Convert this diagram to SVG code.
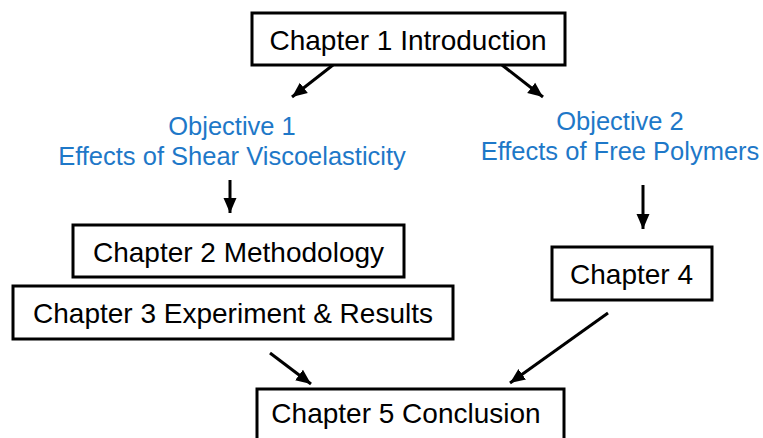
<svg xmlns="http://www.w3.org/2000/svg" width="763" height="438" viewBox="0 0 763 438">
<defs>
<marker id="ah" markerUnits="userSpaceOnUse" markerWidth="16" markerHeight="16" viewBox="0 0 16 16" refX="15" refY="8" orient="auto">
<path d="M0,1.5 L15,8 L0,14.5 Z" fill="#000"/>
</marker>
<style>
.box{fill:#fff;stroke:#000;stroke-width:3}
.t{font-family:"Liberation Sans",Arial,sans-serif;font-size:28px;fill:#000;text-anchor:middle}
.o{font-family:"Liberation Sans",Arial,sans-serif;font-size:25.5px;fill:#1E78C8;text-anchor:middle}
.c{stroke:#000;stroke-width:3;fill:none;marker-end:url(#ah)}
</style>
</defs>
<rect width="763" height="438" fill="#fff"/>
<g id="connectors">
<line class="c" x1="333" y1="65" x2="292" y2="97"/>
<line class="c" x1="502" y1="65" x2="543" y2="97"/>
<line class="c" x1="230" y1="180" x2="230" y2="213"/>
<line class="c" x1="643" y1="185" x2="643" y2="229"/>
<line class="c" x1="270" y1="353" x2="311" y2="384"/>
<line class="c" x1="608" y1="313" x2="510" y2="383"/>
</g>
<g id="ch1"><rect class="box" x="252" y="13" width="313" height="52"/><text class="t" x="408" y="50">Chapter 1 Introduction</text></g>
<g id="obj1"><text class="o" x="232" y="135">Objective 1</text><text class="o" x="232" y="165">Effects of Shear Viscoelasticity</text></g>
<g id="obj2"><text class="o" x="620" y="130">Objective 2</text><text class="o" x="620" y="160">Effects of Free Polymers</text></g>
<g id="ch2"><rect class="box" x="73" y="225" width="331" height="52"/><text class="t" x="238.5" y="261.5">Chapter 2 Methodology</text></g>
<g id="ch3"><rect class="box" x="13" y="286" width="440" height="53"/><text class="t" x="233" y="323">Chapter 3 Experiment &amp; Results</text></g>
<g id="ch4"><rect class="box" x="552" y="247" width="160" height="53"/><text class="t" x="631.5" y="284">Chapter 4</text></g>
<g id="ch5"><rect class="box" x="257" y="389" width="307" height="53"/><text class="t" x="406" y="423">Chapter 5 Conclusion</text></g>
</svg>
